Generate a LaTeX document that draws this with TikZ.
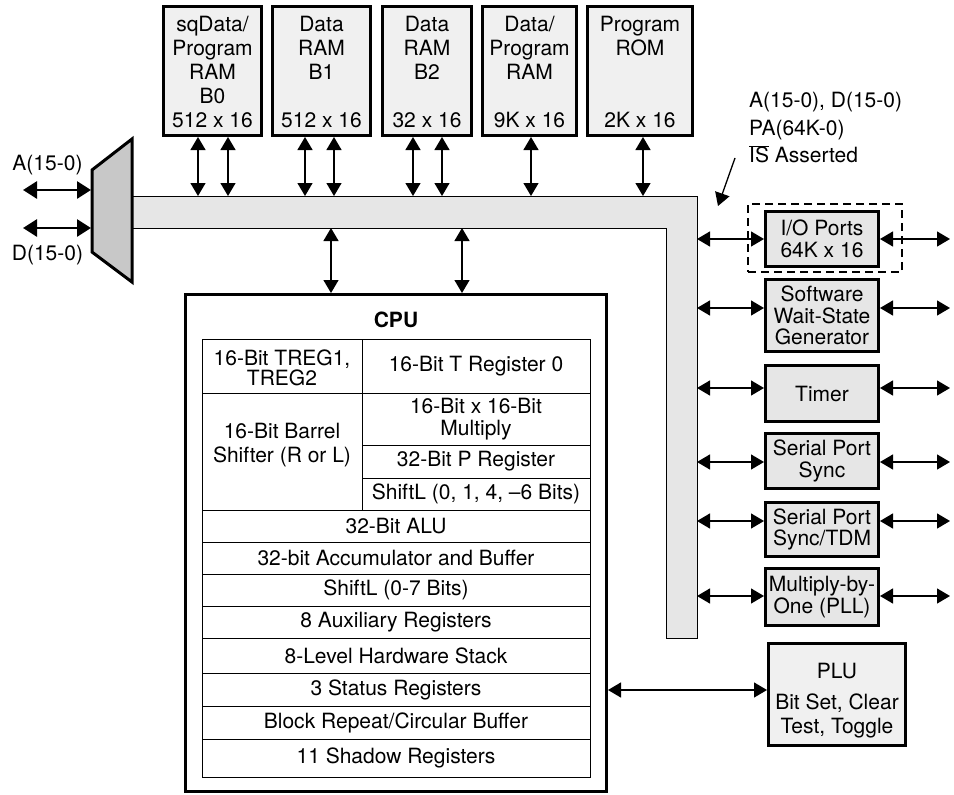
\documentclass[tikz,border=0pt]{standalone}
\usepackage{fontspec}
\setmainfont{TeX Gyre Heros}
\usetikzlibrary{arrows.meta}
\definecolor{memfill}{HTML}{F0F0F0}
\definecolor{perfill}{HTML}{E6E6E6}
\definecolor{busfill}{HTML}{E6E6E6}
\definecolor{muxfill}{HTML}{C8C8C8}
\begin{document}
\begin{tikzpicture}[x=1pt,y=-1pt,
  font=\fontsize{21}{24}\selectfont,
  membox/.style={draw, line width=3pt, fill=memfill, minimum width=#1, minimum height=129pt, inner sep=0pt},
  perbox/.style={draw, line width=3pt, fill=perfill, minimum width=113pt, minimum height=#1, inner sep=1pt, align=center, font=\fontsize{21}{21.5}\selectfont},
  memtext/.style={align=center, inner sep=0pt},
  celltext/.style={align=center, inner sep=0pt},
  tipA/.tip={Triangle[length=13pt,width=15pt]},
  bi/.style={{tipA}-{tipA}, line width=1.3pt},
  thickbi/.style={{Triangle[length=14pt,width=17pt]}-{Triangle[length=14pt,width=17pt]}, line width=2.8pt},
  gridline/.style={line width=1pt}
]
\useasboundingbox (0,0) rectangle (954,795);

% ---------- bus ----------
\draw[fill=busfill, line width=1pt] (132,196) -- (697,196) -- (697,638) -- (666,638) -- (666,228) -- (132,228) -- cycle;
\coordinate (bustop) at (0,196);
\coordinate (busbot) at (0,228);
\coordinate (busright) at (697,0);
\coordinate (rightend) at (950,0);

% ---------- memory blocks ----------
\node[membox=98pt]  (m1) at (212.5,71) {};
\node[membox=98pt]  (m2) at (321.5,71) {};
\node[membox=89pt]  (m3) at (427,71) {};
\node[membox=94pt]  (m4) at (529.5,71) {};
\node[membox=105pt] (m5) at (640,71) {};

\node[memtext] (m1t) at (212.5,60) {sqData/\\Program\\RAM\\B0};
\node[memtext] (m2t) at (321.5,48) {Data\\RAM\\B1};
\node[memtext] (m3t) at (427,48) {Data\\RAM\\B2};
\node[memtext] (m4t) at (529.5,48) {Data/\\Program\\RAM};
\node[memtext] (m5t) at (640,36) {Program\\ROM};
\node[memtext] (m1s) at (212.5,120) {512 x 16};
\node[memtext] (m2s) at (321.5,120) {512 x 16};
\node[memtext] (m3s) at (427,120) {32 x 16};
\node[memtext] (m4s) at (529.5,120) {9K x 16};
\node[memtext] (m5s) at (640,120) {2K x 16};

\foreach \n/\xx in {a/198,b/228,c/305,d/334,e/413,f/442,g/531,h/643}{
  \coordinate (x\n) at (\xx,0);
}
\draw[bi] (xa |- m1.south) -- (xa |- bustop);
\draw[bi] (xb |- m1.south) -- (xb |- bustop);
\draw[bi] (xc |- m2.south) -- (xc |- bustop);
\draw[bi] (xd |- m2.south) -- (xd |- bustop);
\draw[bi] (xe |- m3.south) -- (xe |- bustop);
\draw[bi] (xf |- m3.south) -- (xf |- bustop);
\draw[bi] (xg |- m4.south) -- (xg |- bustop);
\draw[bi] (xh |- m5.south) -- (xh |- bustop);

% ---------- multiplexer ----------
\draw[fill=muxfill, line width=3pt, line join=miter] (92,170) -- (132,139) -- (132,282) -- (92,252) -- cycle;
\coordinate (muxA) at (91,190);
\coordinate (muxD) at (91,228);
\coordinate (extA) at (23,190);
\coordinate (extD) at (23,228);
\draw[thickbi] (extA) -- (muxA);
\draw[thickbi] (extD) -- (muxD);
\node (lA) at (47.5,165) {A(15-0)};
\node (lD) at (47.5,255) {D(15-0)};

% ---------- CPU ----------
\node[draw, line width=3pt, minimum width=421pt, minimum height=497pt] (cpu) at (396,543) {};
\node[font=\fontsize{21}{24}\selectfont\bfseries] (cputitle) at (396,320) {CPU};
\coordinate (cx1) at (331,0);
\coordinate (cx2) at (462,0);
\draw[bi] (cx1 |- busbot) -- (cx1 |- cpu.north);
\draw[bi] (cx2 |- busbot) -- (cx2 |- cpu.north);

\draw[gridline] (202,339) rectangle (590,777);
\foreach \yy in {393,510,542,574,606,638,673,706,739}{
  \draw[gridline] (202,\yy) -- (590,\yy);
}
\draw[gridline] (362,445) -- (590,445);
\draw[gridline] (362,478) -- (590,478);
\draw[gridline] (362,339) -- (362,510);

\node[celltext, font=\fontsize{21}{18}\selectfont] (c1) at (282,368) {16-Bit TREG1,\\TREG2};
\node[celltext] (c2) at (476,366) {16-Bit T Register 0};
\node[celltext] (c3) at (282,445) {16-Bit Barrel\\Shifter (R or L)};
\node[celltext, font=\fontsize{21}{22}\selectfont] (c4) at (476,419) {16-Bit x 16-Bit\\Multiply};
\node[celltext] (c5) at (476,461.5) {32-Bit P Register};
\node[celltext] (c6) at (476,494) {ShiftL (0, 1, 4, --6 Bits)};
\node[celltext] (c7) at (396,526) {32-Bit ALU};
\node[celltext] (c8) at (396,558) {32-bit Accumulator and Buffer};
\node[celltext] (c9) at (396,590) {ShiftL (0-7 Bits)};
\node[celltext] (c10) at (396,622) {8 Auxiliary Registers};
\node[celltext] (c11) at (396,655.5) {8-Level Hardware Stack};
\node[celltext] (c12) at (396,689.5) {3 Status Registers};
\node[celltext] (c13) at (396,722.5) {Block Repeat/Circular Buffer};
\node[celltext] (c14) at (396,758) {11 Shadow Registers};

% ---------- peripherals ----------
\node[draw, dash pattern=on 8pt off 5pt, line width=2.8pt, minimum width=154pt, minimum height=68pt] (iodash) at (825,238) {};
\node[perbox=55pt] (io) at (822,239) {I/O Ports\\64K x 16};
\node[perbox=72pt] (sw) at (822,315.5) {Software\\Wait-State\\Generator};
\node[perbox=56pt] (tim) at (822,393.5) {Timer};
\node[perbox=55pt] (sp) at (822,461) {Serial Port\\Sync};
\node[perbox=54pt] (tdm) at (822,529.5) {Serial Port\\Sync/TDM};
\node[perbox=57pt] (pll) at (822,597) {Multiply-by-\\One (PLL)};
\node[draw, line width=3pt, fill=memfill, minimum width=137pt, minimum height=102pt] (plu) at (837,694.5) {};
\node[align=center, inner sep=0pt] (plut) at (837,701) {PLU\\[7pt]Bit Set, Clear\\Test, Toggle};

\foreach \nm/\yy in {io/239, sw/308, tim/388, sp/462, tdm/521, pll/596}{
  \coordinate (y\nm) at (0,\yy);
  \draw[bi] (busright |- y\nm) -- (\nm.west |- y\nm);
  \draw[bi] (\nm.east |- y\nm) -- (rightend |- y\nm);
}
\coordinate (ypl) at (0,690);
\draw[bi] (cpu.east |- ypl) -- (plu.west |- ypl);

% ---------- annotation ----------
\node[align=left, anchor=west, inner sep=0pt, font=\fontsize{21}{27.5}\selectfont] (note) at (749,128)
  {A(15-0), D(15-0)\\PA(64K-0)\\$\overline{\mbox{IS}}$ Asserted};
\coordinate (ptrS) at (735,158);
\coordinate (ptrE) at (718,206);
\draw[-{tipA}, line width=1.3pt] (ptrS) -- (ptrE);
\end{tikzpicture}
\end{document}
